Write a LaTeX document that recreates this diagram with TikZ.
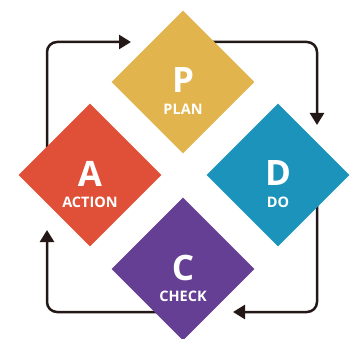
\documentclass[tikz,border=0pt]{standalone}
\usepackage{fontspec}
\setmainfont{Open Sans}
\usetikzlibrary{shapes.geometric}
\usetikzlibrary{arrows.meta}
\usetikzlibrary{backgrounds}
\definecolor{pdcag}{RGB}{226,180,78}
\definecolor{pdcar}{RGB}{224,80,56}
\definecolor{pdcab}{RGB}{27,147,187}
\definecolor{pdcav}{RGB}{101,63,148}
\definecolor{pdcak}{RGB}{35,24,21}
\tikzset{
    cell/.style = {diamond, aspect=1, inner sep=0pt, minimum width=143pt, minimum height=143pt, draw=none},
    cellg/.style = {cell, fill=pdcag},
    cellr/.style = {cell, fill=pdcar},
    cellb/.style = {cell, fill=pdcab},
    cellv/.style = {cell, fill=pdcav},
    letter/.style = {inner sep=0pt, text=white, font=\bfseries\fontsize{35}{35}\selectfont},
    caption/.style = {inner sep=0pt, text=white, font=\bfseries\fontsize{14.5}{14.5}\selectfont},
    edgek/.style = {-{Triangle[length=12pt,width=14pt]}, line width=2.5pt, pdcak, rounded corners=10pt}
}
\begin{document}
\begin{tikzpicture}[x=1pt,y=-1pt]
\path[use as bounding box] (0,0) rectangle (353,339);
\node[cellg] at (183,82) (P) {};
\node[cellb] at (278,175) (D) {};
\node[cellv] at (183,269) (C) {};
\node[cellr] at (90,175) (A) {};
%
\node[letter] at (183,80.5) (Pl) {P};
\node[caption] at (183,109) (Pc) {PLAN};
\node[letter] at (278,173.5) (Dl) {D};
\node[caption] at (278,202) (Dc) {DO};
\node[letter] at (183,267.5) (Cl) {C};
\node[caption] at (183,296) (Cc) {CHECK};
\node[letter] at (90,173.5) (Al) {A};
\node[caption] at (90,202) (Ac) {ACTION};
%
\coordinate (tipP) at (131,42);
\coordinate (tipD) at (317,125);
\coordinate (tipC) at (233,312);
\coordinate (tipA) at (47,230);
\begin{scope}[on background layer]
\draw[edgek] ([xshift=-43pt]A.center) |- (tipP);
\draw[edgek] ([yshift=40pt]P.center) -| (tipD);
\draw[edgek] ([xshift=39pt]D.center) |- (tipC);
\draw[edgek] ([yshift=-43pt]C.center) -| (tipA);
\end{scope}
\end{tikzpicture}
\end{document}
